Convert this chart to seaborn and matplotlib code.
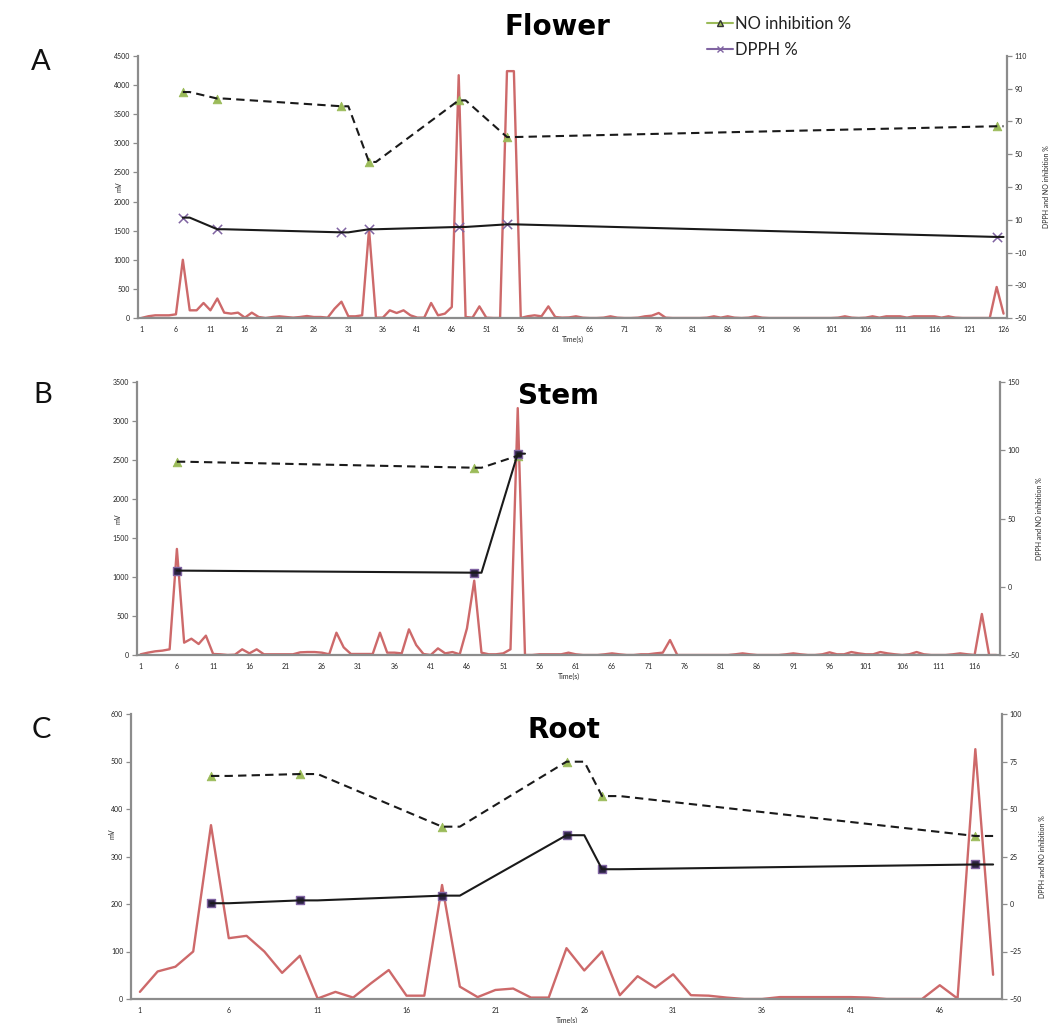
import numpy as np
import pandas as pd
import matplotlib
matplotlib.use("Agg")
import matplotlib.pyplot as plt
import seaborn as sns
from matplotlib.lines import Line2D
from matplotlib.ticker import FixedLocator

# ---------------- chromatogram signals (mV per time point) ----------------
flower_mv = [0, 30, 46, 46, 46, 63, 1000, 132, 132, 258,
             132, 335, 92, 75, 92, 6, 92, 17, 0, 17,
             29, 17, 6, 17, 34, 17, 17, 6, 160, 280,
             29, 29, 46, 1525, 6, 6, 132, 86, 132, 46,
             6, 6, 258, 46, 75, 189, 4170, 17, 6, 200,
             6, 0, 0, 4240, 4240, 0, 30, 46, 29, 200,
             17, 6, 10, 29, 6, 0, 0, 6, 29, 6,
             0, 0, 6, 29, 40, 86, 6, 0, 0, 0,
             0, 0, 6, 29, 6, 29, 6, 0, 6, 29,
             6, 0, 0, 0, 0, 0, 0, 0, 0, 0,
             0, 6, 29, 6, 0, 6, 29, 6, 29, 29,
             29, 6, 29, 29, 29, 29, 6, 29, 6, 0,
             0, 0, 0, 0, 533, 75]

stem_mv = [9, 30, 47, 56, 73, 1360, 158, 209, 141, 248,
           13, 9, 0, 4, 73, 21, 73, 9, 9, 9,
           9, 9, 34, 38, 38, 30, 9, 286, 98, 13,
           13, 13, 13, 286, 30, 30, 21, 329, 128, 13,
           0, 85, 21, 38, 9, 342, 953, 30, 9, 9,
           21, 73, 3165, 0, 0, 9, 9, 9, 9, 30,
           9, 0, 0, 0, 9, 21, 9, 0, 0, 9,
           9, 21, 30, 192, 0, 0, 0, 0, 0, 0,
           0, 0, 9, 21, 9, 0, 0, 0, 0, 9,
           21, 9, 0, 0, 9, 34, 9, 9, 38, 21,
           9, 9, 38, 21, 9, 0, 9, 38, 9, 0,
           0, 0, 9, 21, 9, 0, 526, 0, 0]

root_mv = [15, 58, 68, 100, 366, 128, 133, 100, 55, 91,
           1, 15, 3, 33, 61, 7, 7, 240, 26, 4,
           19, 22, 3, 3, 107, 60, 100, 8, 48, 24,
           52, 8, 7, 3, 0, 0, 4, 4, 4, 4,
           4, 3, 0, 0, 0, 29, 1, 526, 51]

# ---------------- activity assays (time point, %) ----------------
flower_idx = [7, 12, 30, 34, 47, 54, 125]
flower_no = [88.0, 84.0, 79.3, 45.3, 82.9, 60.5, 67.1]
flower_dpph = [11.3, 4.2, 2.3, 4.2, 5.6, 7.2, -0.5]

stem_idx = [6, 47, 53]
stem_no = [91.6, 87.2, 96.0]
stem_dpph = [11.8, 10.3, 97.5]

root_idx = [5, 10, 18, 25, 27, 48]
root_no = [67.4, 68.4, 40.7, 74.9, 56.8, 35.8]
root_dpph = [0.4, 1.9, 4.4, 36.2, 18.3, 20.8]

titles = ["Flower", "Stem", "Root"]
letters = ["A", "B", "C"]

sns.set_theme(style="white")
plt.rcParams["font.family"] = ["Lato", "DejaVu Sans"]

RED = "#C8595A"
GREEN = "#9BBB59"
PURPLE = "#8064A2"
SPINE = "#8C8C8C"

W, H = 1051, 1023
fig = plt.figure(figsize=(W / 100, H / 100), dpi=100)


def rect(l, r, t, b):
    return [l / W, 1 - b / H, (r - l) / W, (b - t) / H]


def held_path(idx, vals):
    """Each assay value is held for one time step before moving to the next."""
    xs, ys = [], []
    for i, v in zip(idx, vals):
        xs += [i, i + 1]
        ys += [v, v]
    return pd.DataFrame({"t": xs, "v": ys})


def panel(box, mv, idx, no, dpph, ylim, ystep, y2lim, y2step, dpph_square,
          title, title_xy, letter, letter_xy, mv_label_y=0.5):
    ax = fig.add_axes(rect(*box))
    n = len(mv)
    df = pd.DataFrame({"t": np.arange(1, n + 1), "mv": mv})
    sns.lineplot(data=df, x="t", y="mv", ax=ax, color=RED, lw=1.7,
                 estimator=None, alpha=0.9)
    ax.set_xlim(0.5, n + 0.5)
    ax.set_ylim(*ylim)
    ax.set_yticks(np.arange(ylim[0], ylim[1] + 1, ystep))
    ax.xaxis.set_major_locator(FixedLocator(np.arange(1, n + 1, 5)))
    ax.xaxis.set_minor_locator(FixedLocator(np.arange(1, n + 1, 1)))
    ax.set_xticklabels([str(v) for v in np.arange(1, n + 1, 5)])
    ax.tick_params(axis="both", which="both", direction="out", colors="#222222",
                   labelsize=5, pad=2)
    ax.tick_params(axis="both", which="major", length=3.5, width=0.9, color=SPINE)
    ax.tick_params(axis="x", which="minor", length=2.5, width=0.8, color=SPINE)
    ax.set_xlabel("Time(s)", fontsize=5, labelpad=2)
    ax.set_ylabel("mV", fontsize=5)
    ax.yaxis.set_label_coords(-0.018, mv_label_y)
    for s in ["top", "right"]:
        ax.spines[s].set_visible(False)
    for s in ["left", "bottom"]:
        ax.spines[s].set_color(SPINE)
        ax.spines[s].set_linewidth(1.6)
    ax.grid(False)

    ax2 = ax.twinx()
    ax2.set_ylim(*y2lim)
    ax2.set_yticks(np.arange(y2lim[0], y2lim[1] + 1, y2step))
    ax2.tick_params(axis="y", direction="out", length=3.5, width=0.9, color=SPINE,
                    labelsize=5, pad=2, labelcolor="#222222")
    for s in ["top", "left", "bottom"]:
        ax2.spines[s].set_visible(False)
    ax2.spines["right"].set_color(SPINE)
    ax2.spines["right"].set_linewidth(1.6)
    ax2.set_ylabel("DPPH and NO inhibition %", fontsize=5, rotation=90)
    ax2.yaxis.set_label_coords(1.042, 0.5)
    ax2.grid(False)

    pts = pd.DataFrame({"t": idx, "no": no, "dpph": dpph})
    sns.scatterplot(data=pts, x="t", y="no", ax=ax2, marker="^", s=38,
                    color=GREEN, edgecolor=GREEN, linewidth=0.6, zorder=3)
    if dpph_square:
        sns.scatterplot(data=pts, x="t", y="dpph", ax=ax2, marker="s", s=40,
                        color="#2B2342", edgecolor=PURPLE, linewidth=1.0, zorder=3)
    else:
        sns.scatterplot(data=pts, x="t", y="dpph", ax=ax2, marker="x", s=45,
                        color=PURPLE, linewidth=1.1, zorder=3)
    sns.lineplot(data=held_path(idx, no), x="t", y="v", ax=ax2, color="#1A1A1A",
                 lw=1.5, linestyle=(0, (4, 2.5)), estimator=None, sort=False,
                 zorder=4)
    sns.lineplot(data=held_path(idx, dpph), x="t", y="v", ax=ax2, color="#1A1A1A",
                 lw=1.5, estimator=None, sort=False, zorder=4)
    ax2.set_xlabel("")
    ax.set_xlim(0.5, n + 0.5)

    fig.text(title_xy[0] / W, 1 - title_xy[1] / H, title, fontsize=20,
             fontweight="bold", ha="center", va="center", color="black",
             family="DejaVu Sans")
    fig.text(letter_xy[0] / W, 1 - letter_xy[1] / H, letter, fontsize=21,
             ha="center", va="center", color="#111111")
    return ax, ax2


panel((138, 1007, 56, 318), flower_mv, flower_idx, flower_no, flower_dpph,
      (0, 4500), 500, (-50, 110), 20, False,
      titles[0], (557, 27), letters[0], (41, 62))
panel((137, 1000, 382, 655), stem_mv, stem_idx, stem_no, stem_dpph,
      (0, 3500), 500, (-50, 150), 50, True,
      titles[1], (558, 396), letters[1], (43, 395))
panel((131, 1002, 714, 999), root_mv, root_idx, root_no, root_dpph,
      (0, 600), 100, (-50, 100), 25, True,
      titles[2], (564, 730), letters[2], (41, 730), mv_label_y=0.58)

handles = [
    Line2D([], [], color=GREEN, lw=1.5, marker="^", markersize=5,
           markerfacecolor=GREEN, markeredgecolor="#333333"),
    Line2D([], [], color=PURPLE, lw=1.5, marker="x", markersize=5,
           markeredgecolor=PURPLE),
]
fig.legend(handles, ["NO inhibition %", "DPPH %"], loc="upper left",
           bbox_to_anchor=(700 / W, 1 - 9 / H), frameon=False, fontsize=12,
           handlelength=1.6, handletextpad=0.1, labelspacing=0.62,
           borderaxespad=0, labelcolor="#222222")

fig.savefig("out.png", dpi=100, facecolor="white")
